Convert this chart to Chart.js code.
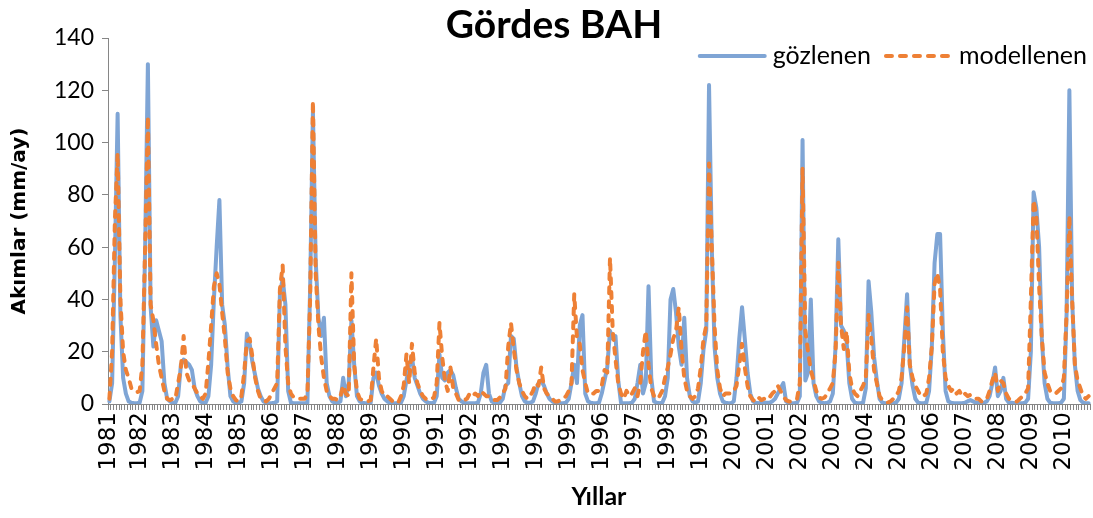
<!DOCTYPE html>
<html>
<head>
<meta charset="utf-8">
<title>Gördes BAH</title>
<script src="https://cdn.jsdelivr.net/npm/chart.js@4.4.1/dist/chart.umd.min.js"></script>
<style>
    html, body { margin: 0; padding: 0; background: #fff; overflow: hidden; }
    #kutu { width: 1093px; height: 518px; position: relative; }
</style>
</head>
<body>
<div id="kutu"><canvas id="akimChart"></canvas></div>
<script>
// yil etiketleri (x ekseni)
const yillar = ['1981', '1982', '1983', '1984', '1985', '1986', '1987', '1988', '1989', '1990',
    '1991', '1992', '1993', '1994', '1995', '1996', '1997', '1998', '1999', '2000',
    '2001', '2002', '2003', '2004', '2005', '2006', '2007', '2008', '2009', '2010'];

// aylik akimlar (mm/ay), okunan degerler
const gozlenen = [
    1, 8, 55, 111, 34, 10, 4, 1, 0.5, 0.3, 0.3, 0.5,
    5, 60, 130, 37, 22, 32, 28, 24, 8, 2, 1, 0.5,
    0.5, 3, 15, 17, 16, 15, 13, 6, 3, 1, 0.5, 0.5,
    3, 15, 40, 60, 78, 38, 30, 14, 3, 1, 0.5, 0.5,
    1, 8, 27, 23, 16, 11, 6, 3, 1, 0.5, 0.3, 0.3,
    0.5, 1, 42, 48, 38, 5, 0.5, 0.3, 0.3, 0.3, 0.3, 0.3,
    0.5, 45, 112, 55, 33, 26, 33, 8, 3, 1, 0.5, 0.5,
    1, 10, 3, 8, 32, 15, 3, 1, 0.5, 0.3, 0.3, 0.5,
    10, 12, 7, 4, 2, 1, 0.5, 0.3, 0.3, 0.3, 0.5, 3,
    9, 15, 18, 10, 7, 4, 2, 1, 0.5, 0.3, 0.5, 3,
    19, 10, 9, 12, 13, 11, 6, 2, 1, 0.5, 0.3, 0.3,
    0.3, 0.3, 0.5, 4, 12, 15, 4, 1, 0.5, 0.3, 0.5, 2,
    7, 8, 26, 25, 14, 8, 3, 1, 0.5, 0.5, 1, 4,
    8, 9, 7, 4, 2, 1, 0.5, 0.3, 0.3, 0.3, 0.5, 2,
    8, 15, 8, 30, 34, 4, 1, 0.5, 0.3, 0.3, 0.5, 4,
    9, 14, 28, 25, 26, 9, 0.5, 0.3, 0.3, 0.3, 0.5, 2,
    8, 15, 4, 8, 45, 10, 1, 0.5, 0.3, 0.5, 3, 10,
    40, 44, 35, 22, 15, 33, 10, 3, 1, 0.5, 1, 8,
    21, 28, 122, 60, 22, 10, 4, 1, 0.5, 0.3, 0.3, 1,
    10, 25, 37, 25, 12, 4, 1, 0.5, 0.3, 0.5, 0.5, 0.5,
    0.5, 1, 2, 4, 6, 8, 1, 0.3, 0.3, 0.3, 0.5, 3,
    101, 9, 12, 40, 8, 3, 1, 0.5, 0.3, 0.5, 1, 4,
    22, 63, 30, 28, 24, 8, 2, 0.5, 0.3, 0.3, 0.5, 6,
    47, 35, 18, 9, 2, 0.5, 0.3, 0.3, 0.3, 0.3, 0.5, 2,
    8, 25, 42, 15, 7, 2, 0.5, 0.3, 0.3, 0.5, 5, 22,
    54, 65, 65, 28, 5, 1, 0.5, 0.3, 0.3, 0.3, 0.3, 0.5,
    1, 1.5, 1, 0.5, 0.5, 0.3, 0.5, 1, 3, 8, 14, 3,
    5, 10, 2, 0.5, 0.5, 0.3, 0.3, 0.3, 0.3, 0.5, 2, 20,
    81, 75, 60, 25, 8, 2, 0.5, 0.3, 0.3, 0.3, 0.5, 2,
    35, 120, 40, 15, 5, 1.5, 0.5, 0.3, 0.3
];

const modellenen = [
    2, 20, 70, 96, 40, 20, 13, 10, 6, 5, 4.5, 5,
    15, 60, 110, 38, 32, 23, 15, 10, 5, 2, 1.5, 2,
    2, 8, 14, 26, 12, 9, 8, 6, 4, 3, 2, 4,
    16, 30, 45, 50, 46, 35, 25, 12, 6, 3, 1.5, 1,
    3, 12, 24, 25, 18, 10, 5, 2, 1.5, 1, 2, 4,
    6, 8, 44, 53, 22, 8, 4, 2.5, 2, 2, 2, 2,
    4, 41, 116, 50, 30, 18, 10, 5, 3, 2, 2, 1.5,
    3, 7, 4, 3, 50, 15, 5, 2, 1.5, 1, 1, 1.5,
    14, 25, 10, 5, 3, 3, 2, 1, 0.5, 0.5, 3, 7,
    19, 8, 23, 12, 8, 5, 3, 2, 1.5, 2, 2.5, 8,
    31, 18, 9, 5, 14, 6, 4, 1.5, 1, 1.5, 2, 4,
    3, 4, 3, 5, 4, 3, 3, 2, 1.5, 1.5, 2.5, 4,
    6, 22, 31, 21, 13, 8, 5, 3, 2, 3, 5, 8,
    7, 14, 6, 4, 3, 2, 1, 1, 1.5, 2, 3, 5,
    8, 42, 25, 23, 13, 8, 4, 4, 4, 5, 5, 7,
    13, 12, 56, 28, 17, 8, 4, 2, 5, 3, 4, 6,
    3, 8, 20, 28, 15, 6, 3, 4, 3, 5, 10, 14,
    19, 25, 28, 37, 21, 10, 5, 3, 2, 3, 6, 14,
    25, 30, 92, 60, 30, 13, 6, 3, 4, 4, 4, 5,
    7, 15, 23, 14, 7, 3, 1.5, 1, 2.5, 1.5, 2, 1.5,
    2.5, 4, 5, 7, 5, 3, 1.5, 1, 1, 1.5, 2, 8,
    90, 28, 20, 13, 9, 5, 2.5, 2, 2.5, 4, 6, 8,
    20, 54, 30, 21, 28, 12, 6, 4, 3, 5, 7, 10,
    34, 25, 13, 8, 3, 1.5, 1, 0.5, 1, 2, 3, 5,
    10, 22, 37, 15, 10, 7, 5, 3, 3, 4, 10, 22,
    46, 50, 44, 20, 10, 7, 5, 6, 4, 5, 3, 4,
    3, 3.5, 2.5, 2, 2, 1, 1, 2, 5, 9, 12, 5,
    9, 8, 4, 2, 1.5, 1, 1, 2, 3, 4, 6, 40,
    78, 72, 45, 25, 12, 8, 5, 5, 4, 5, 6, 10,
    35, 72, 40, 15, 9, 6, 3, 2, 3
];

// ilk etiket ilk ayda, sonrakiler her yilin ocak ayinda
const etiketler = gozlenen.map(function(v, i) {
    if (i === 0) return yillar[0];
    if (i >= 11 && (i - 11) % 12 === 0) return yillar[(i - 11) / 12 + 1] || '';
    return '';
});

const eksenRengi = '#868686';

// sag ustteki lejant, cizim alaninin icinde
const lejantPlugin = {
    id: 'lejant',
    afterDraw: function(chart) {
        const ctx = chart.ctx;
        const area = chart.chartArea;
        const y = 56;
        let x = area.right - 3;
        ctx.save();
        ctx.font = '25px Lato';
        ctx.textBaseline = 'middle';
        chart.data.datasets.slice().reverse().forEach(function(ds) {
            const w = ctx.measureText(ds.label).width;
            x -= w;
            ctx.fillStyle = '#000';
            ctx.fillText(ds.label, x, y);
            x -= 8;
            ctx.strokeStyle = ds.borderColor;
            ctx.lineWidth = ds.borderWidth;
            ctx.lineCap = 'round';
            ctx.setLineDash(ds.borderDash || []);
            ctx.beginPath();
            ctx.moveTo(x - 65, y);
            ctx.lineTo(x, y);
            ctx.stroke();
            ctx.setLineDash([]);
            x -= 65 + 15;
        });
        ctx.restore();
    }
};

const ctx = document.getElementById('akimChart').getContext('2d');
const akimChart = new Chart(ctx, {
    type: 'line',
    data: {
        labels: etiketler,
        datasets: [{
            label: 'gözlenen',
            data: gozlenen,
            borderColor: '#7fa5d5',
            borderWidth: 4,
            pointRadius: 0,
            tension: 0,
            borderJoinStyle: 'round',
            borderCapStyle: 'round',
            order: 1
        }, {
            label: 'modellenen',
            data: modellenen,
            borderColor: '#ee8035',
            borderWidth: 4,
            borderDash: [6, 8],
            pointRadius: 0,
            tension: 0,
            borderJoinStyle: 'round',
            borderCapStyle: 'round',
            order: 0
        }]
    },
    options: {
        responsive: true,
        maintainAspectRatio: false,
        animation: false,
        layout: { padding: { top: 0, right: 3, bottom: 0, left: 18 } },
        plugins: {
            legend: { display: false },
            tooltip: { enabled: false },
            title: {
                display: true,
                text: 'Gördes BAH',
                color: '#000',
                font: { family: 'Lato', size: 39, weight: 'bold', lineHeight: 1 },
                padding: { top: 6, bottom: -7 }
            }
        },
        scales: {
            x: {
                offset: true,
                grid: { offset: true, drawOnChartArea: false, tickLength: 6, color: eksenRengi },
                border: { color: eksenRengi, width: 1 },
                ticks: {
                    autoSkip: false,
                    minRotation: 90,
                    maxRotation: 90,
                    padding: 2,
                    color: '#000',
                    font: { family: 'DejaVu Sans', size: 23 }
                },
                title: {
                    display: true,
                    text: 'Yıllar',
                    color: '#000',
                    font: { family: 'Lato', size: 25, weight: 'bold' },
                    padding: { top: 0, bottom: 6 }
                },
                afterFit: function(scale) {
                    scale.height = 114;
                    scale.paddingLeft = 0;
                    scale.paddingRight = 0;
                }
            },
            y: {
                min: 0,
                max: 140,
                ticks: {
                    stepSize: 20,
                    padding: 8,
                    color: '#000',
                    font: { family: 'Lato', size: 23 }
                },
                grid: { drawOnChartArea: false, tickLength: 6, color: eksenRengi },
                border: { color: eksenRengi, width: 1 },
                title: {
                    display: true,
                    text: 'Akımlar (mm/ay)',
                    color: '#000',
                    font: { family: 'DejaVu Sans', size: 20, weight: 'bold' },
                    padding: { top: -10, bottom: 0 }
                },
                afterFit: function(scale) { scale.width = 90; }
            }
        }
    },
    plugins: [lejantPlugin]
});
</script>
</body>
</html>
